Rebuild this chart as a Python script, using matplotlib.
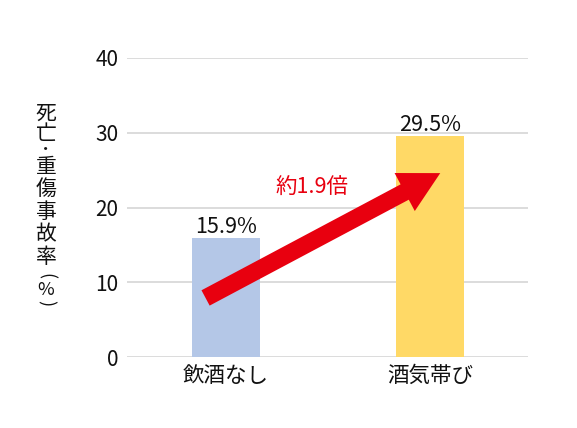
import matplotlib
matplotlib.use("Agg")
import matplotlib.pyplot as plt

plt.rcParams['font.family'] = ['Noto Sans CJK JP', 'DejaVu Sans']

categories = ["飲酒なし", "酒気帯び"]
values = [15.9, 29.5]
value_labels = ["15.9%", "29.5%"]
bar_colors = ["#b4c7e7", "#ffd966"]
yticks = [0, 10, 20, 30, 40]
ratio_label = "約1.9倍"
arrow_from = (-0.10, 7.9)
arrow_to = (1.05, 24.6)
ylabel_chars = ["死", "亡", "・", "重", "傷", "事", "故", "率", "(", "%", ")"]
ylabel_rot = [0, 0, 0, 0, 0, 0, 0, 0, -90, 0, -90]
ylabel_y_px = [114, 134, 150, 167, 189, 212, 234, 257, 276, 290, 303]

W, H = 577, 428
fig = plt.figure(figsize=(W / 100, H / 100), dpi=100)
ax = fig.add_axes([127 / W, (H - 357) / H, (528 - 127) / W, (357 - 58) / H])

x = list(range(len(categories)))
ax.bar(x, values, width=0.335, color=bar_colors, zorder=2)
ax.set_xlim(-0.485, 1.48)
ax.set_ylim(0, 40)
ax.set_yticks(yticks)
ax.set_yticklabels([str(t) for t in yticks], fontsize=15)
ax.set_xticks(x)
ax.set_xticklabels(categories, fontsize=15.5)
ax.tick_params(axis='both', length=0, colors='#111111')
ax.tick_params(axis='y', pad=6)
ax.tick_params(axis='x', pad=6)
ax.grid(axis='y', color='#d9d9d9', linewidth=1.3, zorder=0)
for s in ax.spines.values():
    s.set_visible(False)

for xi, v, lab in zip(x, values, value_labels):
    ax.annotate(lab, (xi, v), xytext=(0, 0), textcoords='offset points',
                ha='center', va='bottom', fontsize=15.5, color='#111111')

ax.annotate('', xy=arrow_to, xytext=arrow_from,
            arrowprops=dict(arrowstyle='simple,head_length=2.9,head_width=3.1,tail_width=1.25',
                            mutation_scale=10, color='#e8000f', shrinkA=0, shrinkB=0, lw=0),
            zorder=5)
ax.text(0.42, 22.6, ratio_label, ha='center', va='center', fontsize=15.5, color='#e8000f')

for ch, rot, ypx in zip(ylabel_chars, ylabel_rot, ylabel_y_px):
    if ch == "・":
        fs = 11
    elif ch in "()%":
        fs = 13
    else:
        fs = 15
    fig.text(46 / W, 1 - ypx / H, ch, ha='center', va='center', fontsize=fs,
             rotation=rot, color='#111111')

fig.savefig("out.png", dpi=100)
